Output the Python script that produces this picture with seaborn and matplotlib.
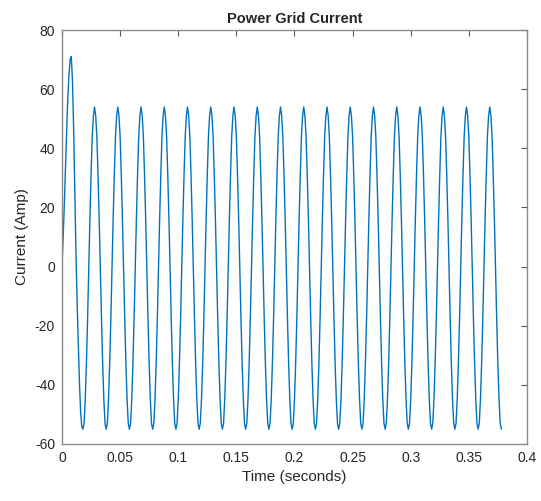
import numpy as np
import pandas as pd
import matplotlib.pyplot as plt
import seaborn as sns

sample_step = 0.001
current = [
    0, 10, 21, 34, 46, 57, 65, 70, 71, 63, 47, 25, 5, -12, -26, -39, -49, -54, -55, -53,
    -45, -33, -18, -1, 16, 31, 44, 51, 54, 51, 44, 31, 16, -1, -18, -33, -45, -53, -55, -53,
    -45, -33, -18, -1, 16, 31, 44, 51, 54, 51, 44, 31, 16, -1, -18, -33, -45, -53, -55, -53,
    -45, -33, -18, -1, 16, 31, 44, 51, 54, 51, 44, 31, 16, -1, -18, -33, -45, -53, -55, -53,
    -45, -33, -18, -1, 16, 31, 44, 51, 54, 51, 44, 31, 16, -1, -18, -33, -45, -53, -55, -53,
    -45, -33, -18, -1, 16, 31, 44, 51, 54, 51, 44, 31, 16, -1, -18, -33, -45, -53, -55, -53,
    -45, -33, -18, -1, 16, 31, 44, 51, 54, 51, 44, 31, 16, -1, -18, -33, -45, -53, -55, -53,
    -45, -33, -18, -1, 16, 31, 44, 51, 54, 51, 44, 31, 16, -1, -18, -33, -45, -53, -55, -53,
    -45, -33, -18, -1, 16, 31, 44, 51, 54, 51, 44, 31, 16, -1, -18, -33, -45, -53, -55, -53,
    -45, -33, -18, -1, 16, 31, 44, 51, 54, 51, 44, 31, 16, -1, -18, -33, -45, -53, -55, -53,
    -45, -33, -18, -1, 16, 31, 44, 51, 54, 51, 44, 31, 16, -1, -18, -33, -45, -53, -55, -53,
    -45, -33, -18, -1, 16, 31, 44, 51, 54, 51, 44, 31, 16, -1, -18, -33, -45, -53, -55, -53,
    -45, -33, -18, -1, 16, 31, 44, 51, 54, 51, 44, 31, 16, -1, -18, -33, -45, -53, -55, -53,
    -45, -33, -18, -1, 16, 31, 44, 51, 54, 51, 44, 31, 16, -1, -18, -33, -45, -53, -55, -53,
    -45, -33, -18, -1, 16, 31, 44, 51, 54, 51, 44, 31, 16, -1, -18, -33, -45, -53, -55, -53,
    -45, -33, -18, -1, 16, 31, 44, 51, 54, 51, 44, 31, 16, -1, -18, -33, -45, -53, -55, -53,
    -45, -33, -18, -1, 16, 31, 44, 51, 54, 51, 44, 31, 16, -1, -18, -33, -45, -53, -55, -53,
    -45, -33, -18, -1, 16, 31, 44, 51, 54, 51, 44, 31, 16, -1, -18, -33, -45, -53, -55, -53,
    -45, -33, -18, -1, 16, 31, 44, 51, 54, 51, 44, 31, 16, -1, -18, -33, -45, -53, -55,
]
x_ticks = [0, 0.05, 0.1, 0.15, 0.2, 0.25, 0.3, 0.35, 0.4]
x_labels = ['0', '0.05', '0.1', '0.15', '0.2', '0.25', '0.3', '0.35', '0.4']
y_ticks = [-60, -40, -20, 0, 20, 40, 60, 80]

df = pd.DataFrame({'time': np.arange(len(current)) * sample_step, 'current': current})

sns.set_style('white')
plt.rcParams['font.family'] = ['Liberation Sans', 'DejaVu Sans']
plt.rcParams['axes.unicode_minus'] = False

fig = plt.figure(figsize=(5.41, 5.01), dpi=100)
ax = fig.add_axes([0.1146, 0.1138, 0.8594, 0.8262])
sns.lineplot(data=df, x='time', y='current', color='#0072BD', linewidth=1.0, ax=ax)

ax.set_xlim(0, 0.4)
ax.set_ylim(-60, 80)
ax.set_xticks(x_ticks)
ax.set_xticklabels(x_labels)
ax.set_yticks(y_ticks)
ax.tick_params(direction='in', top=True, right=True, length=4, width=0.8,
               color='#555555', labelsize=10, labelcolor='#262626', pad=5)
for s in ax.spines.values():
    s.set_color('#8a8a8a')
    s.set_linewidth(1.0)

ax.set_title('Power Grid Current', fontsize=10.5, fontweight='bold', pad=5)
ax.set_xlabel('Time (seconds)', fontsize=11, color='#262626', labelpad=4)
ax.set_ylabel('Current (Amp)', fontsize=11, color='#262626', labelpad=4)

fig.savefig('out.png', dpi=100)
